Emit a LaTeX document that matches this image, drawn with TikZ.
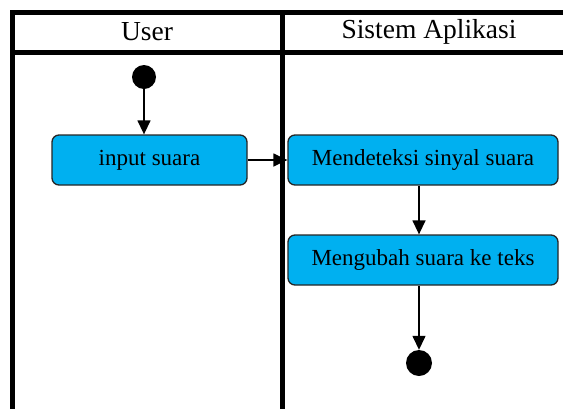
\documentclass[tikz,border=0pt]{standalone}
\usepackage{fontspec}
\setmainfont{Liberation Serif}
\usetikzlibrary{arrows.meta}
\definecolor{boxblue}{RGB}{0,176,240}
\tikzset{
  lane/.style={line width=5pt},
  act/.style={draw=black!85, line width=1.3pt, fill=boxblue, rounded corners=7pt,
    minimum height=50pt, inner sep=0pt, font=\fontsize{23}{26}\selectfont},
  hdr/.style={font=\fontsize{27.5}{30}\selectfont, inner sep=0pt},
  flow/.style={line width=1.4pt, -{Triangle[length=14pt,width=13pt]}},
  dot/.style={circle, fill=black, inner sep=0pt}
}
\begin{document}
\begin{tikzpicture}[x=1pt,y=-1pt]
\useasboundingbox (0,0) rectangle (563,408);
\begin{scope}
\clip (0,0) rectangle (563,408);
\fill[white] (0,0) rectangle (563,408);
\draw[lane] (12,430) -- (12,12.5) -- (580,12.5);
\draw[lane] (12,52) -- (580,52);
\draw[lane] (282,12.5) -- (282,430);
\end{scope}
\node[hdr] (huser) at (147,32) {User};
\node[hdr] (hsys) at (429,32) {Sistem Aplikasi};
\node[dot, minimum size=24pt] (start) at (144,77) {};
\node[act, minimum width=195pt] (inp) at (149.5,160) {input suara};
\node[act, minimum width=270pt] (det) at (423,160) {Mendeteksi sinyal suara};
\node[act, minimum width=270pt] (ubah) at (423,260) {Mengubah suara ke teks};
\node[dot, minimum size=26pt] (stop) at (419,363) {};
\draw[flow] (start) -- (start |- inp.north);
\draw[flow] (inp.east) -- (det.west);
\draw[flow] (stop |- det.south) -- (stop |- ubah.north);
\draw[flow] (stop |- ubah.south) -- (stop.north);
\end{tikzpicture}
\end{document}
